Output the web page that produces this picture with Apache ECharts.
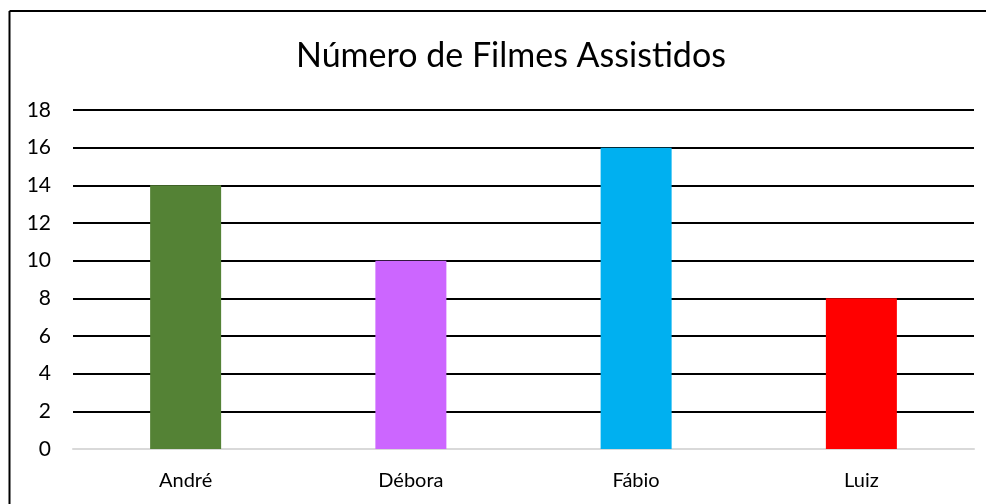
<!DOCTYPE html>
<html>
<head>
<meta charset="utf-8">
<script src="https://cdn.jsdelivr.net/npm/echarts@6/dist/echarts.min.js"></script>
<style>
  html, body { margin: 0; padding: 0; background: #fff; overflow: hidden; }
  #main { width: 990px; height: 504px; }
</style>
</head>
<body>
<div id="main"></div>
<script>
var categories = ['André', 'Débora', 'Fábio', 'Luiz'];
var values = [14, 10, 16, 8];
var barColors = ['#548235', '#CC66FF', '#00B0F0', '#FF0000'];

var myChart = echarts.init(document.getElementById('main'));
var fontName = 'Lato, "Open Sans", sans-serif';

var option = {
    animation: false,
    backgroundColor: '#fff',
    title: {
        text: 'Número de Filmes Assistidos',
        left: 291,
        top: 34,
        textStyle: {
            fontFamily: fontName,
            fontSize: 34,
            fontWeight: 'normal',
            color: '#000'
        }
    },
    graphic: [{
        type: 'line',
        shape: { x1: 9.5, y1: 11, x2: 9.5, y2: 504 },
        style: { stroke: '#000', lineWidth: 2 },
        silent: true
    }, {
        type: 'line',
        shape: { x1: 9.5, y1: 11, x2: 986, y2: 11 },
        style: { stroke: '#000', lineWidth: 2 },
        silent: true
    }],
    grid: {
        left: 73,
        right: 16,
        top: 110,
        bottom: 55,
        containLabel: false
    },
    xAxis: {
        type: 'category',
        data: categories,
        axisLine: { lineStyle: { color: '#d9d9d9', width: 2 } },
        axisTick: { show: false },
        axisLabel: {
            fontFamily: fontName,
            fontSize: 20,
            color: '#000',
            margin: 22
        }
    },
    yAxis: {
        type: 'value',
        min: 0,
        max: 18,
        interval: 2,
        axisLine: { show: false },
        axisTick: { show: false },
        axisLabel: {
            fontFamily: fontName,
            fontSize: 21,
            color: '#000',
            margin: 22
        },
        splitLine: { lineStyle: { color: '#000', width: 2 } }
    },
    series: [{
        type: 'bar',
        barWidth: 71,
        data: values.map(function (v, i) {
            return { value: v, itemStyle: { color: barColors[i] } };
        })
    }]
};

myChart.setOption(option);
</script>
</body>
</html>
